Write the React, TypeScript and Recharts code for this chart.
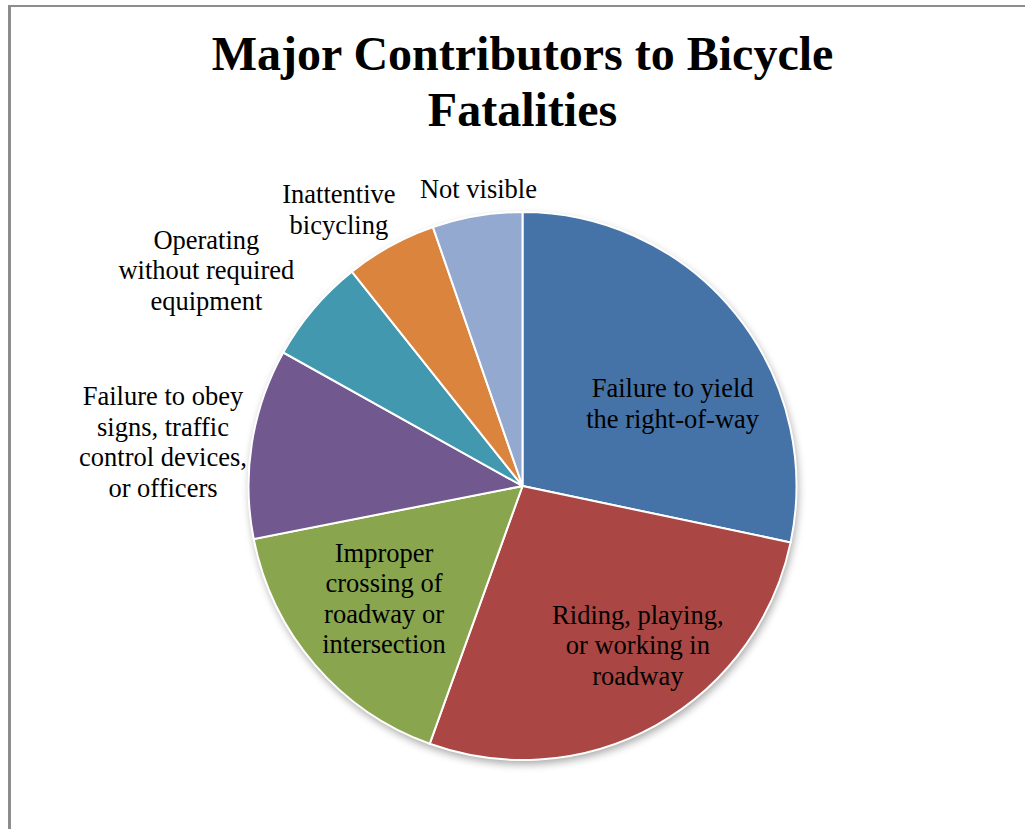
import { Cell, Pie, PieChart } from "recharts";

const CATEGORIES = [
  "Failure to yield\nthe right-of-way",
  "Riding, playing,\nor working in\nroadway",
  "Improper\ncrossing of\nroadway or\nintersection",
  "Failure to obey\nsigns, traffic\ncontrol devices,\nor officers",
  "Operating\nwithout required\nequipment",
  "Inattentive\nbicycling",
  "Not visible",
];
const SHARES = [28.3, 27.2, 16.4, 11.2, 6.2, 5.4, 5.3];

const COLORS = ["#4572a7", "#aa4643", "#89a54e", "#71588f", "#4198af", "#db843d", "#93a9cf"];

// where each label sits: fraction of the radius, and degrees off the slice middle
const LABEL_POS = [
  { r: 0.625, da: -10.3 },
  { r: 0.717, da: 6.8 },
  { r: 0.651, da: -1.6 },
  { r: 1.322, da: 2.0 },
  { r: 1.397, da: 6.0 },
  { r: 1.211, da: 4.8 },
  { r: 1.096, da: -1.1 },
];

const data = CATEGORIES.map((name, i) => ({ name, value: SHARES[i] }));
const total = SHARES.reduce((a, b) => a + b, 0);

const FONT = '"Liberation Serif", "Times New Roman", serif';
const RAD = Math.PI / 180;
const LINE_H = 30.5;

function renderLabel(props: any) {
  const { cx, cy, midAngle, outerRadius, index } = props;
  const pos = LABEL_POS[index];
  const a = (midAngle + pos.da) * RAD;
  const r = outerRadius * pos.r;
  const x = cx + r * Math.cos(a);
  const y = cy - r * Math.sin(a);
  const lines = CATEGORIES[index].split("\n");
  return (
    <text
      key={`lbl-${index}`}
      textAnchor="middle"
      fontFamily={FONT}
      fontSize={26.5}
      fill="#000"
    >
      {lines.map((line, i) => (
        <tspan key={i} x={x} y={y + (i - (lines.length - 1) / 2) * LINE_H + 9}>
          {line}
        </tspan>
      ))}
    </text>
  );
}

export default function App() {
  return (
    <div
      style={{
        position: "absolute",
        left: 0,
        top: 0,
        width: 1025,
        height: 829,
        background: "#fff",
        overflow: "hidden",
      }}
    >
      <style>{`.pie-shadow .recharts-sector { filter: blur(4px); opacity: 0.35; }`}</style>
      <div
        style={{
          position: "absolute",
          left: 8,
          top: 5,
          width: 1100,
          height: 900,
          borderLeft: "3px solid #8c8c8c",
          borderTop: "2px solid #8c8c8c",
        }}
      />
      <div
        style={{
          position: "absolute",
          left: 0,
          top: 26,
          width: 1045,
          textAlign: "center",
          fontFamily: FONT,
          fontWeight: "bold",
          fontSize: 48,
          lineHeight: "56px",
          color: "#000",
        }}
      >
        Major Contributors to Bicycle
        <br />
        Fatalities
      </div>
      <div style={{ position: "absolute", left: 0, top: 0 }}>
        <PieChart width={1025} height={829} margin={{ top: 0, right: 0, bottom: 0, left: 0 }}>
          <Pie
            className="pie-shadow"
            data={[{ name: "all", value: total }]}
            dataKey="value"
            cx={524}
            cy={490}
            outerRadius={274}
            fill="#000"
            stroke="none"
            isAnimationActive={false}
          />
          <Pie
            data={data}
            dataKey="value"
            nameKey="name"
            cx={522.5}
            cy={486}
            outerRadius={274}
            startAngle={90}
            endAngle={-270}
            stroke="#fff"
            strokeWidth={2}
            label={renderLabel}
            labelLine={false}
            isAnimationActive={false}
          >
            {data.map((entry, i) => (
              <Cell key={entry.name} fill={COLORS[i]} />
            ))}
          </Pie>
        </PieChart>
      </div>
    </div>
  );
}
